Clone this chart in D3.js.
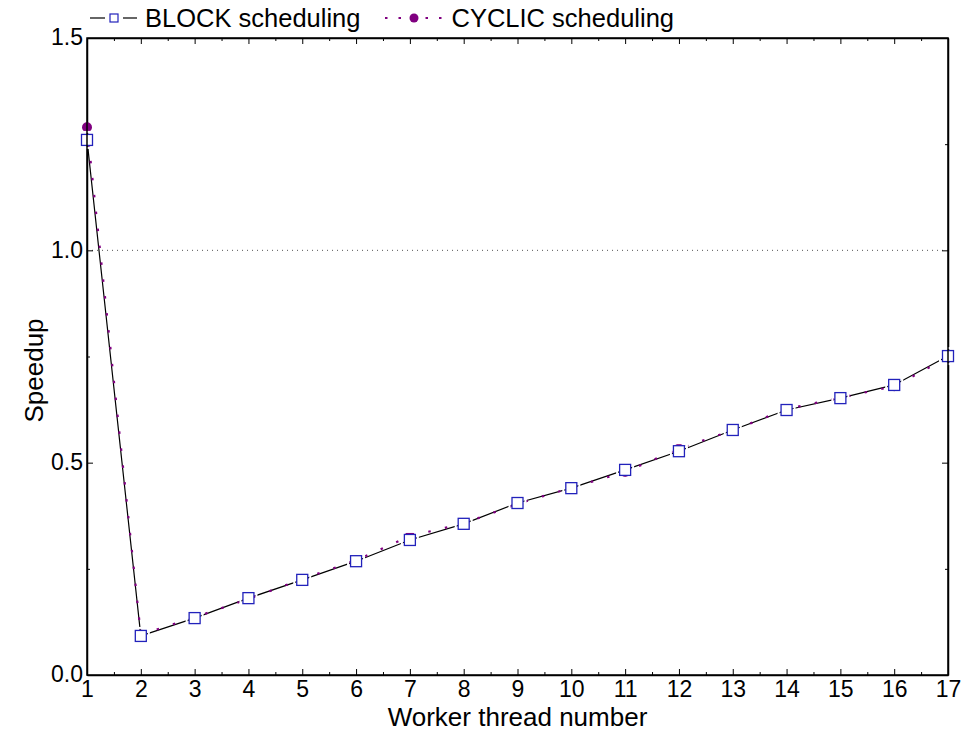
<!DOCTYPE html>
<html>
<head>
<meta charset="utf-8">
<script src="https://cdn.jsdelivr.net/npm/d3@7"></script>
<style>
  body { margin: 0; background: #fff; }
  text { font-family: "Liberation Sans", Arial, sans-serif; fill: #000; }
</style>
</head>
<body>
<svg id="chart" width="980" height="732"></svg>
<script>
// chart data
var threads = [1, 2, 3, 4, 5, 6, 7, 8, 9, 10, 11, 12, 13, 14, 15, 16, 17];
var blockSpeedup = [1.26, 0.092, 0.134, 0.181, 0.224, 0.268, 0.318, 0.356, 0.405, 0.440, 0.483, 0.527, 0.577, 0.624, 0.652, 0.683, 0.751];
var cyclicSpeedup = [1.29, 0.095, 0.136, 0.179, 0.226, 0.270, 0.327, 0.357, 0.403, 0.441, 0.478, 0.533, 0.576, 0.626, 0.653, 0.680, 0.748];
var xTicks = d3.range(1, 18);
var yTicks = [0.0, 0.5, 1.0, 1.5];
var seriesNames = ["BLOCK scheduling", "CYCLIC scheduling"];

var margin = {top: 38, right: 32, bottom: 57, left: 87},
  width = 980 - margin.left - margin.right,
  height = 732 - margin.top - margin.bottom;

var svg = d3.select("#chart");
var g = svg.append("g").attr("transform", "translate(" + margin.left + "," + margin.top + ")");

var x = d3.scaleLinear().domain([1, 17]).range([0, width]);
var y = d3.scaleLinear().domain([0, 1.5]).range([height, 0]);

// reference line at speedup 1
g.append("line")
  .attr("x1", 0).attr("x2", width)
  .attr("y1", y(1)).attr("y2", y(1))
  .style("stroke", "#555").style("stroke-width", 1)
  .style("stroke-dasharray", "1,4");

// inward ticks on all four sides, major + minor
var minorX = d3.range(1.5, 17, 1), minorY = [0.25, 0.75, 1.25];
function isMajorX(d) { return Number.isInteger(d); }
function isMajorY(d) { return yTicks.indexOf(d) >= 0; }
function setup(axis, major, minor) {
  return axis.tickValues(major.concat(minor).sort(d3.ascending))
    .tickSizeOuter(0).tickSizeInner(0).tickPadding(8);
}
var axBottom = g.append("g").attr("transform", "translate(0," + height + ")")
  .call(setup(d3.axisBottom(x), xTicks, minorX).tickFormat(function(d) { return isMajorX(d) ? d : ""; }));
var axTop = g.append("g")
  .call(setup(d3.axisTop(x), xTicks, minorX).tickFormat(""));
var axLeft = g.append("g")
  .call(setup(d3.axisLeft(y), yTicks, minorY).tickFormat(function(d) { return isMajorY(d) ? d3.format(".1f")(d) : ""; }));
var axRight = g.append("g").attr("transform", "translate(" + width + ",0)")
  .call(setup(d3.axisRight(y), yTicks, minorY).tickFormat(""));

axBottom.selectAll(".tick line").attr("y2", function(d) { return isMajorX(d) ? -6 : -3; });
axTop.selectAll(".tick line").attr("y2", function(d) { return isMajorX(d) ? 6 : 3; });
axLeft.selectAll(".tick line").attr("x2", function(d) { return isMajorY(d) ? 6 : 3; });
axRight.selectAll(".tick line").attr("x2", function(d) { return isMajorY(d) ? -6 : -3; });

[axBottom, axTop, axLeft, axRight].forEach(function(a) {
  a.selectAll(".domain").style("stroke", "#000").style("stroke-width", 1.5);
  a.selectAll(".tick line").style("stroke", "#000");
  a.selectAll("text").style("font-size", "23px").style("font-family", "'Liberation Sans', Arial, sans-serif");
});
axBottom.selectAll("text").attr("dy", "0.75em").attr("y", 5);
axLeft.selectAll("text").attr("x", -4).attr("dy", "0.3em");

var blockData = threads.map(function(t, i) { return {x: t, y: blockSpeedup[i]}; });
var cyclicData = threads.map(function(t, i) { return {x: t, y: cyclicSpeedup[i]}; });

var line = d3.line().x(function(d) { return x(d.x); }).y(function(d) { return y(d.y); });

g.append("path").datum(blockData)
  .attr("d", line)
  .style("fill", "none").style("stroke", "#000").style("stroke-width", 1.2);

g.append("path").datum(cyclicData)
  .attr("d", line)
  .style("fill", "none").style("stroke", "#800080").style("stroke-width", 2.2)
  .style("stroke-dasharray", "2.5,14.5");

g.append("g").selectAll("circle")
  .data(cyclicData)
  .enter()
  .append("circle")
  .attr("cx", function(d) { return x(d.x); })
  .attr("cy", function(d) { return y(d.y); })
  .attr("r", 5)
  .style("fill", "#800080");

// white halo gives the gap where the black line meets each square
g.append("g").selectAll("rect")
  .data(blockData)
  .enter()
  .append("rect")
  .attr("x", function(d) { return x(d.x) - 8; })
  .attr("y", function(d) { return y(d.y) - 8; })
  .attr("width", 16).attr("height", 16)
  .style("fill", "none").style("stroke", "#fff").style("stroke-width", 2);

g.append("g").selectAll("rect")
  .data(blockData)
  .enter()
  .append("rect")
  .attr("x", function(d) { return x(d.x) - 5.5; })
  .attr("y", function(d) { return y(d.y) - 5.5; })
  .attr("width", 11).attr("height", 11)
  .style("fill", "#fff").style("stroke", "#2222bb").style("stroke-width", 1.3);

// redraw frame on top
g.append("rect").attr("width", width).attr("height", height)
  .style("fill", "none").style("stroke", "#000").style("stroke-width", 1.5);

// axis titles
svg.append("text")
  .attr("x", margin.left + width / 2).attr("y", 726)
  .attr("text-anchor", "middle").style("font-size", "26px")
  .text("Worker thread number");
svg.append("text")
  .attr("transform", "translate(43," + (margin.top + height / 2 + 14) + ") rotate(-90)")
  .attr("text-anchor", "middle").style("font-size", "26px")
  .text("Speedup");

// legend
var leg = svg.append("g");
leg.append("line").attr("x1", 90).attr("x2", 105).attr("y1", 18).attr("y2", 18)
  .style("stroke", "#000").style("stroke-width", 1.2);
leg.append("line").attr("x1", 123).attr("x2", 137).attr("y1", 18).attr("y2", 18)
  .style("stroke", "#000").style("stroke-width", 1.2);
leg.append("rect").attr("x", 110).attr("y", 14).attr("width", 8).attr("height", 8)
  .style("fill", "#fff").style("stroke", "#2222bb").style("stroke-width", 1.2);
leg.append("text").attr("x", 145).attr("y", 27).style("font-size", "25.5px").text(seriesNames[0]);

leg.append("line").attr("x1", 385).attr("x2", 442).attr("y1", 18).attr("y2", 18)
  .style("stroke", "#800080").style("stroke-width", 2.2).style("stroke-dasharray", "2.5,11");
leg.append("circle").attr("cx", 414).attr("cy", 18).attr("r", 4.5).style("fill", "#800080");
leg.append("text").attr("x", 451.5).attr("y", 27).style("font-size", "25.5px").text(seriesNames[1]);
</script>
</body>
</html>
